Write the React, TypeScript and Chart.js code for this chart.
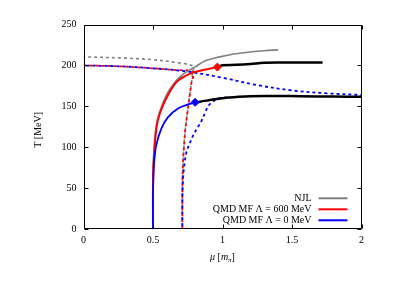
import React, { useEffect, useRef } from "react";
import { Chart, registerables } from "chart.js";

Chart.register(...registerables);

// ---- data (mu in m_pi, T in MeV) ----
const X_TICKS = [0, 0.5, 1, 1.5, 2];
const Y_TICKS = [0, 50, 100, 150, 200, 250];

const NJL_SOLID_MU = [0.5, 0.5, 0.503, 0.52, 0.545, 0.6, 0.65, 0.7, 0.75, 0.8, 0.88, 0.98, 1.08, 1.2, 1.3, 1.4];
const NJL_SOLID_T = [0, 50, 85, 123, 142, 165, 178, 187, 193, 198, 206, 210.5, 214, 216.5, 218, 219];

const NJL_DASH_MU = [0, 0.3, 0.5, 0.65, 0.79, 0.786, 0.776, 0.764, 0.748, 0.733, 0.724, 0.716, 0.712, 0.711, 0.711];
const NJL_DASH_T = [210.5, 209, 207, 204, 199, 192, 178, 164, 143, 123, 104, 82, 60, 40, 0];

const RED_SOLID_MU = [0.5, 0.5, 0.505, 0.524, 0.55, 0.608, 0.67, 0.73, 0.8, 0.88, 0.963];
const RED_SOLID_T = [0, 50, 82, 123, 142, 164, 180, 187, 192, 195, 198];

const RED_DASH_MU = [0, 0.25, 0.5, 0.65, 0.786, 0.776, 0.764, 0.748, 0.733, 0.724, 0.716, 0.712, 0.711, 0.711];
const RED_DASH_T = [200, 199, 196.5, 194.5, 192, 178, 164, 143, 123, 104, 82, 60, 40, 0];

const RED_CEP_MU = [0.963];
const RED_CEP_T = [198];

const RED_FIRST_MU = [0.963, 1.0, 1.1, 1.2, 1.3, 1.4, 1.55, 1.72];
const RED_FIRST_T = [198, 200.2, 200.8, 201.8, 203.2, 203.6, 203.6, 203.6];

const BLUE_SOLID_MU = [0.5, 0.5, 0.503, 0.508, 0.524, 0.56, 0.608, 0.68, 0.752, 0.803];
const BLUE_SOLID_T = [0, 40, 65, 82, 103, 123, 137, 147.5, 152.4, 155];

const BLUE_DASH_TOP_MU = [0, 0.25, 0.5, 0.75, 1.0, 1.25, 1.5, 1.75, 2.0];
const BLUE_DASH_TOP_T = [200, 199, 196.5, 192.5, 185, 176, 169.5, 166, 164];

const BLUE_DASH_LOW_MU = [0.711, 0.711, 0.713, 0.718, 0.728, 0.742, 0.765, 0.79, 0.82, 0.848, 0.874, 0.9, 0.94, 0.982, 1.03];
const BLUE_DASH_LOW_T = [0, 30, 50, 66, 82, 95, 105, 115, 124, 132, 142, 151, 157, 160, 161];

const BLUE_CEP_MU = [0.803];
const BLUE_CEP_T = [155];

const BLUE_FIRST_MU = [0.803, 0.838, 0.9, 0.982, 1.1, 1.2, 1.4, 1.56, 1.8, 2.0];
const BLUE_FIRST_T = [155, 155.8, 157.5, 159.8, 161.5, 162.5, 162.6, 162.5, 162, 161.7];

const LEGEND_LABELS = ["NJL", "QMD MF Λ = 600 MeV", "QMD MF Λ = 0 MeV"];
const LEGEND_COLORS = ["#808080", "#ff0000", "#0000ff"];

const FONT = "'Liberation Serif', 'DejaVu Serif', serif";

function pts(xs: number[], ys: number[]) {
  return xs.map((x, i) => ({ x, y: ys[i] }));
}

export default function App() {
  const ref = useRef<HTMLCanvasElement | null>(null);

  useEffect(() => {
    if (!ref.current) return;
    const line = (
      xs: number[],
      ys: number[],
      color: string,
      width: number,
      dash: number[] = [],
      dashOffset = 0,
      order = 5
    ) => ({
      data: pts(xs, ys),
      borderColor: color,
      backgroundColor: color,
      borderWidth: width,
      borderDash: dash,
      borderDashOffset: dashOffset,
      pointRadius: 0,
      fill: false,
      tension: 0.35,
      order,
    });
    const diamond = (xs: number[], ys: number[], color: string) => ({
      data: pts(xs, ys),
      borderColor: color,
      backgroundColor: color,
      showLine: false,
      pointStyle: "rectRot" as const,
      pointRadius: 4,
      pointBorderWidth: 1,
      order: 0,
    });

    const framePlugin = {
      id: "frame",
      afterDraw(chart: any) {
        const { ctx, chartArea: a, scales } = chart;
        ctx.save();
        ctx.setLineDash([]);
        ctx.strokeStyle = "#000";
        ctx.lineWidth = 1;
        const l = Math.round(a.left) + 0.5;
        const r = Math.round(a.right) - 0.5;
        const t = Math.round(a.top) + 0.5;
        const b = Math.round(a.bottom) - 0.5;
        // frame
        ctx.beginPath();
        ctx.moveTo(l, t);
        ctx.lineTo(r, t);
        ctx.lineTo(r, b);
        ctx.lineTo(l, b);
        ctx.closePath();
        ctx.stroke();
        // inner tick marks on all four sides
        const tl = 4;
        ctx.beginPath();
        X_TICKS.forEach((v) => {
          const px = Math.round(scales.x.getPixelForValue(v)) + 0.5;
          ctx.moveTo(px, b);
          ctx.lineTo(px, b - tl);
          ctx.moveTo(px, t);
          ctx.lineTo(px, t + tl);
        });
        Y_TICKS.forEach((v) => {
          const py = Math.round(scales.y.getPixelForValue(v)) + 0.5;
          ctx.moveTo(l, py);
          ctx.lineTo(l + tl, py);
          ctx.moveTo(r, py);
          ctx.lineTo(r - tl, py);
        });
        ctx.stroke();

        // legend
        ctx.font = `10px ${FONT}`;
        ctx.textAlign = "right";
        ctx.textBaseline = "middle";
        LEGEND_LABELS.forEach((lab, i) => {
          const y = a.bottom - 31 + i * 11;
          ctx.fillStyle = "#000";
          ctx.fillText(lab, a.right - 50, y);
          ctx.strokeStyle = LEGEND_COLORS[i];
          ctx.lineWidth = 2;
          ctx.beginPath();
          ctx.moveTo(a.right - 43, y);
          ctx.lineTo(a.right - 14, y);
          ctx.stroke();
        });

        // x title: μ [m_π]
        const cx = (a.left + a.right) / 2;
        const ty = a.bottom + 28.5;
        const parts = [
          { t: "μ", f: `italic 10px ${FONT}`, dy: 0 },
          { t: " [", f: `10px ${FONT}`, dy: 0 },
          { t: "m", f: `italic 10px ${FONT}`, dy: 0 },
          { t: "π", f: `italic 7px ${FONT}`, dy: 2.5 },
          { t: "]", f: `10px ${FONT}`, dy: 0 },
        ];
        let total = 0;
        parts.forEach((p) => {
          ctx.font = p.f;
          total += ctx.measureText(p.t).width;
        });
        let x = cx - total / 2;
        ctx.textAlign = "left";
        ctx.fillStyle = "#000";
        parts.forEach((p) => {
          ctx.font = p.f;
          ctx.fillText(p.t, x, ty + p.dy);
          x += ctx.measureText(p.t).width;
        });

        // y title
        ctx.save();
        ctx.translate(38, (a.top + a.bottom) / 2 + 3);
        ctx.rotate(-Math.PI / 2);
        ctx.font = `10px ${FONT}`;
        ctx.textAlign = "center";
        ctx.textBaseline = "middle";
        ctx.fillText("T [MeV]", 0, 0);
        ctx.restore();

        ctx.restore();
      },
    };

    const chart = new Chart(ref.current, {
      type: "line",
      data: {
        datasets: [
          diamond(RED_CEP_MU, RED_CEP_T, "#ff0000"),
          diamond(BLUE_CEP_MU, BLUE_CEP_T, "#0000ff"),
          line(RED_FIRST_MU, RED_FIRST_T, "#000000", 2.5, [], 0, 1),
          line(BLUE_FIRST_MU, BLUE_FIRST_T, "#000000", 2.5, [], 0, 1),
          line(RED_SOLID_MU, RED_SOLID_T, "#ff0000", 2, [], 0, 3),
          line(BLUE_SOLID_MU, BLUE_SOLID_T, "#0000ff", 1.8, [], 0, 2),
          line(NJL_SOLID_MU, NJL_SOLID_T, "#808080", 1.6, [], 0, 4),
          line(BLUE_DASH_TOP_MU, BLUE_DASH_TOP_T, "#0000ff", 1.8, [3, 3], 3, 5),
          line(BLUE_DASH_LOW_MU, BLUE_DASH_LOW_T, "#0000ff", 1.8, [3, 3], 3, 5),
          line(RED_DASH_MU, RED_DASH_T, "#ff0000", 1.8, [3, 3], 0, 6),
          line(NJL_DASH_MU, NJL_DASH_T, "#808080", 1.6, [3, 3], 1.5, 7),
        ],
      },
      options: {
        animation: false,
        responsive: false,
        devicePixelRatio: 1,
        layout: { padding: { left: 0, right: 37.5, top: 24.5, bottom: 0 } },
        plugins: { legend: { display: false }, tooltip: { enabled: false } },
        scales: {
          x: {
            type: "linear",
            min: 0,
            max: 2,
            afterBuildTicks: (s: any) => {
              s.ticks = X_TICKS.map((v) => ({ value: v }));
            },
            afterFit: (s: any) => {
              s.height = 52.7;
            },
            grid: { display: false, drawTicks: false },
            border: { display: false },
            ticks: {
              padding: 5,
              color: "#000",
              font: { family: FONT, size: 10 },
              maxRotation: 0,
              autoSkip: false,
              callback: (v: any) => String(v),
            },
          },
          y: {
            type: "linear",
            min: 0,
            max: 250,
            afterBuildTicks: (s: any) => {
              s.ticks = Y_TICKS.map((v) => ({ value: v }));
            },
            afterFit: (s: any) => {
              s.width = 83.5;
            },
            grid: { display: false, drawTicks: false },
            border: { display: false },
            ticks: {
              padding: 7,
              color: "#000",
              font: { family: FONT, size: 10 },
              autoSkip: false,
              callback: (v: any) => String(v),
            },
          },
        },
      },
      plugins: [framePlugin],
    } as any);
    return () => chart.destroy();
  }, []);

  return (
    <div style={{ position: "absolute", left: 0, top: 0, width: 399, height: 282, background: "#fff" }}>
      <canvas ref={ref} width={399} height={282} />
    </div>
  );
}
